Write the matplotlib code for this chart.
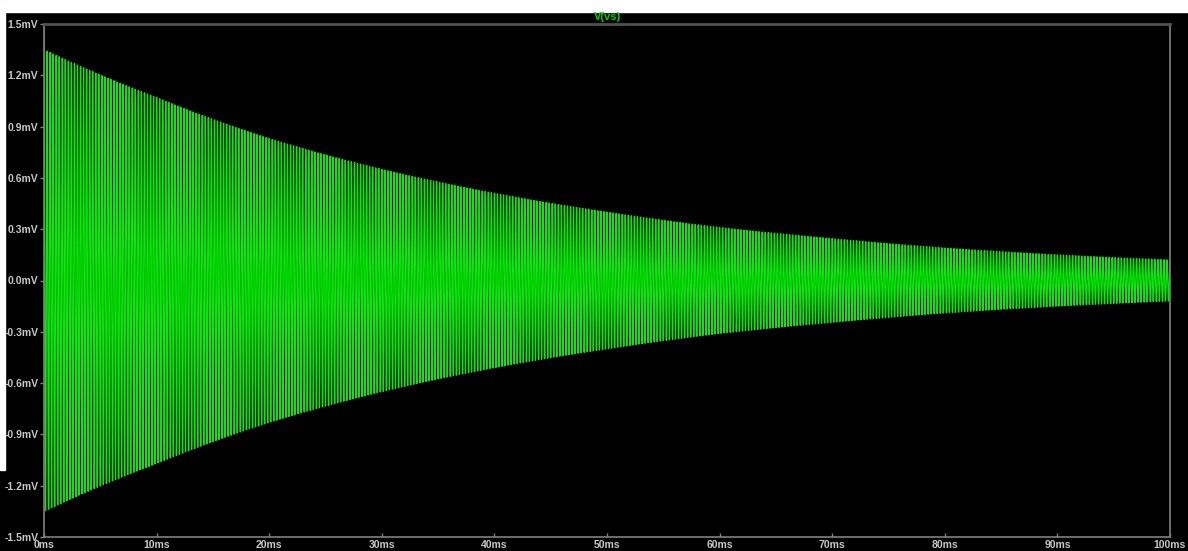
import numpy as np
from matplotlib import pyplot as plt
from matplotlib.patches import Rectangle

# envelope of V(vs), every 10 ms (mV)
env_t = [0, 10, 20, 30, 40, 50, 60, 70, 80, 90, 100]
env_top = [1.35, 1.07, 0.83, 0.65, 0.51, 0.40, 0.31, 0.245, 0.19, 0.15, 0.12]
env_bot = [-1.35, -1.07, -0.83, -0.65, -0.51, -0.40, -0.31, -0.245, -0.19, -0.15, -0.12]
start_peak = 1.47      # first spike at t=0
f_khz = 3.7            # ringing frequency, estimated from line spacing

yticks = [-1.5, -1.2, -0.9, -0.6, -0.3, 0.0, 0.3, 0.6, 0.9, 1.2, 1.5]
xticks = [0, 10, 20, 30, 40, 50, 60, 70, 80, 90, 100]

t = np.linspace(0, 100, 80000)
top = np.exp(np.interp(t, env_t, np.log(env_top)))
bot = -np.exp(np.interp(t, env_t, np.log(np.abs(env_bot))))
mid = (top + bot) / 2
amp = (top - bot) / 2
v = mid + amp * np.cos(2 * np.pi * f_khz * t)
v[0] = start_peak

fig = plt.figure(figsize=(11.88, 5.51), dpi=100, facecolor='black')
# white strips round the LTspice window
fig.patches.append(Rectangle((0, 1 - 12/551), 1, 12/551, transform=fig.transFigure,
                             color='white', zorder=0))
fig.patches.append(Rectangle((0, 1 - 470/551), 5/1188, 458/551, transform=fig.transFigure,
                             color='white', zorder=0))

ax = fig.add_axes([44/1188, 1 - 537/551, (1170 - 44)/1188, (537 - 24)/551])
ax.set_facecolor('black')
ax.plot(t, v, color='#00f000', lw=0.95)

ax.set_xlim(0, 100)
ax.set_ylim(-1.5, 1.5)
ax.set_yticks(yticks)
ax.set_yticklabels(['%.1fmV' % y for y in yticks])
ax.set_xticks(xticks)
ax.set_xticklabels(['%dms' % x for x in xticks])

for s in ax.spines.values():
    s.set_color('#808080')
    s.set_linewidth(1.2)
ax.spines['top'].set_color('#505050')
ax.spines['top'].set_linewidth(2)

ax.tick_params(axis='y', direction='out', length=3, width=1, color='#808080',
               labelcolor='#c8c8c8', labelsize=7.5, pad=1)
ax.tick_params(axis='x', direction='in', length=3, width=1, color='#808080',
               labelcolor='#c8c8c8', labelsize=7.5, pad=2)
for lab in ax.get_xticklabels() + ax.get_yticklabels():
    lab.set_fontweight('bold')
    lab.set_family('Liberation Sans')

fig.text(607/1188, 1 - 17/551, 'V(vs)', color='#00d000', fontsize=8,
         fontweight='bold', family='Liberation Sans', ha='center', va='center')

plt.savefig('out.png', dpi=100, facecolor='black')
